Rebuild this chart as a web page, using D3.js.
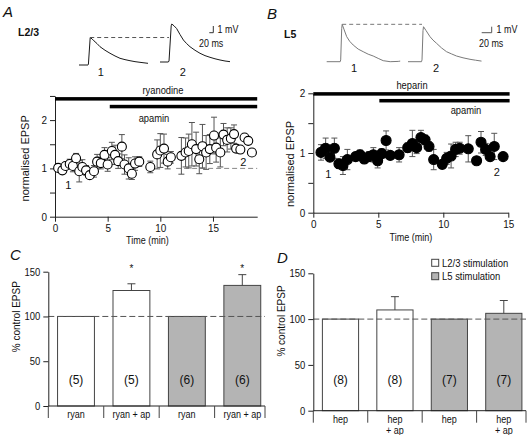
<!DOCTYPE html>
<html><head><meta charset="utf-8">
<script src="https://cdn.jsdelivr.net/npm/d3@7"></script>
<style>
body{margin:0;background:#fff}
svg{display:block;font-family:"Liberation Sans",Arial,Helvetica,sans-serif}
</style></head><body>
<svg id="c" width="531" height="435"></svg>
<script>
// ---------------- DATA ----------------
// Panel A (L2/3, ryanodine then apamin)
const timeA = [0.3,0.7,1.0,1.4,1.7,2.0,2.3,2.6,2.95,3.3,3.7,4.0,4.35,4.7,5.0,5.4,5.7,6.0,6.35,6.6,7.0,7.3,7.6,8.0,9.05,9.7,10.0,10.35,10.7,11.0,12.0,12.4,12.7,13.0,13.4,13.7,14.0,14.35,14.7,15.1,15.3,15.7,16.0,16.35,16.7,17.0,17.2,17.6,18.0,18.35,18.7];
const epspA = [1.01,0.96,1.05,1.09,1.05,1.21,0.94,1.03,0.96,0.86,0.94,1.14,1.11,1.28,1.08,1.36,1.28,1.15,1.45,1.08,1.0,0.89,1.10,1.14,1.03,1.29,1.37,1.41,1.14,1.23,1.26,1.33,1.36,1.50,1.40,1.19,1.46,1.33,1.40,1.68,1.43,1.33,1.70,1.59,1.62,1.71,1.41,1.39,1.64,1.57,1.33];
const semA  = [0.05,0.04,0.07,0.1,0.12,0.1,0.22,0.15,0.1,0.06,0.12,0.15,0.12,0.15,0.14,0.18,0.2,0.15,0.25,0.2,0.22,0.12,0.14,0.1,0.12,0.3,0.35,0.3,0.15,0.12,0.38,0.3,0.35,0.45,0.35,0.3,0.45,0.35,0.3,0.38,0.3,0.3,0.23,0.25,0.22,0.19,0,0,0,0,0];
// Panel B (L5, heparin then apamin)
const timeB = [0.59,0.95,1.28,1.62,1.97,2.28,2.62,3.26,3.59,3.92,4.28,4.62,4.95,5.26,5.6,5.92,6.6,7.26,7.62,7.95,8.28,8.6,8.9,9.26,9.92,10.26,10.6,10.95,11.26,11.92,12.56,12.9,13.26,13.6,13.92,14.6];
const epspB = [1.01,1.08,0.93,1.08,0.82,0.79,0.89,0.94,0.97,0.90,0.94,0.97,0.87,0.99,1.21,0.96,0.97,1.09,1.16,1.09,1.26,1.22,1.11,0.89,0.81,0.91,0.95,1.06,1.08,1.07,0.87,1.18,1.06,0.94,1.11,0.94];
const semB  = [0.13,0.17,0.05,0.17,0.08,0.15,0.17,0.07,0.08,0.07,0.08,0.12,0.12,0.08,0.16,0.06,0.12,0.08,0.22,0.1,0.12,0.08,0.08,0.17,0.07,0.1,0.2,0.12,0.1,0.22,0.06,0.18,0.1,0.07,0.22,0.05];
// drug application periods (min)
const drugsA = [{name:"ryanodine", start:0, end:19.2}, {name:"apamin", start:5.2, end:19.2}];
const drugsB = [{name:"heparin", start:0, end:15.1}, {name:"apamin", start:5.08, end:15.1}];
// Example EPSP traces [ms, mV]
const traceA1 = [[0,0],[45,0],[47,0.1],[56,4.1],[65,3.9],[75,3.6],[90,3.2],[105,2.73],[130,2.2],[155,1.75],[180,1.35],[205,1.0],[230,0.8],[255,0.64],[280,0.5],[305,0.4],[345,0.25]];
const traceA2 = [[0,0],[40,0],[45,0.1],[56,5.4],[59,5.67],[70,5.4],[83,5.0],[100,4.1],[117,3.28],[133,2.75],[150,2.28],[175,1.75],[200,1.3],[225,0.95],[250,0.7],[275,0.48],[300,0.3],[325,0.15],[350,0.05]];
const traceB1 = [[0,0],[27,0],[28,0.3],[30,5.5],[31,6.23],[35,5.3],[40,4.17],[46,3.4],[53,2.78],[63,2.1],[73,1.67],[83,1.25],[93,0.95],[103,0.55],[113,0.17],[127,0],[143,0.05],[147,0.1]];
const traceB2 = [[0,0],[27,0],[28,0.3],[30,5.2],[31,5.83],[36,5.2],[44,4.17],[50,3.6],[57,3.07],[67,2.3],[77,1.67],[87,1.3],[97,0.95],[110,0.65],[124,0.4],[135,0.25],[147,0.1]];
// Panel C
const catsC = ["ryan","ryan + ap","ryan","ryan + ap"];
const valsC = [100,129,100,134.7];
const errC  = [0,7.5,0,12];
const nC    = ["(5)","(5)","(6)","(6)"];
const sigC  = [false,true,false,true];
const stimC = ["L2/3","L2/3","L5","L5"];
// Panel D
const catsD = [["hep"],["hep","+ ap"],["hep"],["hep","+ ap"]];
const valsD = [100,110,100,106.3];
const errD  = [0,14.5,0,14];
const nD    = ["(8)","(8)","(7)","(7)"];
const stimD = ["L2/3","L2/3","L5","L5"];
const legendLabels = ["L2/3 stimulation","L5 stimulation"];

// ---------------- DRAW ----------------
const svg = d3.select("#c");
svg.append("rect").attr("width",531).attr("height",435).attr("fill","#fff");
const stimFill = {"L2/3":"#ffffff","L5":"#b4b4b4"};

function squeeze(sel, f){
  sel.each(function(){
    const L = this.getComputedTextLength();
    if (L>0) d3.select(this).attr("textLength", L*f).attr("lengthAdjust","spacingAndGlyphs");
  });
}
function txt(g, x, y, s, size, opts={}){
  const t = g.append("text").attr("x",x).attr("y",y).text(s)
    .attr("font-size",size).attr("fill","#111")
    .attr("text-anchor", opts.anchor||"middle");
  if (opts.weight) t.attr("font-weight",opts.weight);
  if (opts.italic) t.attr("font-style","italic");
  if (opts.sq) squeeze(t, opts.sq);
  return t;
}
function styleAxis(g, size, sq){
  g.select(".domain").attr("stroke","#222").attr("stroke-width",1);
  g.selectAll(".tick line").attr("stroke","#222");
  g.selectAll(".tick text").attr("font-size",size).attr("fill","#111").attr("font-family",null);
  g.attr("font-family",null);
  if (sq) squeeze(g.selectAll(".tick text"), sq);
}

// ----- traces -----
function drawTrace(data, x0, y0, pxMs, pxMV, color){
  const xs = d3.scaleLinear([0,1],[x0, x0+pxMs]);
  const ys = d3.scaleLinear([0,1],[y0, y0-pxMV]);
  svg.append("path").datum(data)
    .attr("d", d3.line().x(d=>xs(d[0])).y(d=>ys(d[1])))
    .attr("fill","none").attr("stroke",color).attr("stroke-width",1);
  return {xs, ys};
}
// A traces
const a1 = drawTrace(traceA1, 79, 65, 0.2, 6.7, "#1a1a1a");
const a2 = drawTrace(traceA2, 160, 62, 0.2, 6.7, "#1a1a1a");
const pkA1 = d3.maxIndex(traceA1, d=>d[1]);
const riseA2 = traceA2.findIndex(d=>d[1]>0.05);
svg.append("line").attr("x1",a1.xs(traceA1[pkA1][0])).attr("x2",a2.xs(traceA2[riseA2][0]))
  .attr("y1",a1.ys(traceA1[pkA1][1])).attr("y2",a1.ys(traceA1[pkA1][1]))
  .attr("stroke","#555").attr("stroke-dasharray","4,3");
// B traces
const b1 = drawTrace(traceB1, 326.7, 61.7, 0.5, 6.0, "#7a7a7a");
const b2 = drawTrace(traceB2, 408, 61.7, 0.5, 6.0, "#7a7a7a");
const pkB1 = d3.maxIndex(traceB1, d=>d[1]);
const riseB2 = traceB2.findIndex(d=>d[1]>0.05);
svg.append("line").attr("x1",b1.xs(traceB1[pkB1][0])).attr("x2",b2.xs(traceB2[riseB2][0]))
  .attr("y1",b1.ys(traceB1[pkB1][1])).attr("y2",b1.ys(traceB1[pkB1][1]))
  .attr("stroke","#777").attr("stroke-dasharray","4,3");
// scale bars (20 ms, 1 mV)
function scaleBar(ax, ay, tr, color){
  const w = tr.xs(20)-tr.xs(0), h = tr.ys(0)-tr.ys(1);
  svg.append("path").attr("d",`M${ax-w},${ay}H${ax}V${ay-h}`).attr("fill","none").attr("stroke",color);
}
scaleBar(213.3, 32.7, a1, "#333");
scaleBar(491.7, 32.7, b1, "#555");
txt(svg, 217.5, 33, "1 mV", 10.5, {anchor:"start", sq:0.85});
txt(svg, 199, 47, "20 ms", 10.5, {anchor:"start", sq:0.85});
txt(svg, 496.5, 33, "1 mV", 10.5, {anchor:"start", sq:0.85});
txt(svg, 479, 47, "20 ms", 10.5, {anchor:"start", sq:0.85});
txt(svg, 100.7, 75.5, "1", 11);
txt(svg, 182.7, 75.5, "2", 11);
txt(svg, 354, 72, "1", 11);
txt(svg, 436, 72, "2", 11);

// panel letters / labels
txt(svg, 3, 16.7, "A", 15, {anchor:"start", italic:true});
txt(svg, 267, 19.3, "B", 15, {anchor:"start", italic:true});
txt(svg, 10, 260, "C", 15, {anchor:"start", italic:true});
txt(svg, 277, 262.7, "D", 15, {anchor:"start", italic:true});
txt(svg, 18, 36, "L2/3", 10.5, {anchor:"start", weight:"bold"});
txt(svg, 284, 38, "L5", 10.5, {anchor:"start", weight:"bold"});

// ----- time-course panels -----
function timePanel(o){
  const x = d3.scaleLinear([0,o.xmax],[o.x0,o.x1]);
  const y = d3.scaleLinear([0,o.ymax],[o.y0,o.y1]);
  const g = svg.append("g");
  if (o.dashFrom!=null){
    g.append("line").attr("x1",x(o.dashFrom)).attr("x2",x(o.xmax)).attr("y1",y(1)).attr("y2",y(1))
      .attr("stroke","#888").attr("stroke-dasharray","5,3");
  }
  const ya = g.append("g").attr("transform",`translate(${o.x0},0)`)
    .call(d3.axisLeft(y).tickValues(o.yticks).tickSize(5).tickSizeOuter(0).tickPadding(3)
      .tickFormat(d=>Number.isInteger(d)?d:""));
  styleAxis(ya, 11, 0.9);
  const xa = g.append("g").attr("transform",`translate(0,${o.y0})`)
    .call(d3.axisBottom(x).tickValues([0,5,10,15]).tickSize(5).tickSizeOuter(0).tickPadding(3));
  styleAxis(xa, 11, 0.9);
  o.drugs.forEach((d,i)=>{
    g.append("rect").attr("x",x(d.start)).attr("width",x(d.end)-x(d.start))
      .attr("y",y(o.barLevels[i])-1.75).attr("height",3.5).attr("fill","#000");
    txt(g, o.labelPos[i][0], o.labelPos[i][1], d.name, 11, {sq:0.85});
  });
  const pts = o.t.map((t,i)=>({t, v:o.v[i], e:o.e[i]})).filter(d=>d.e>0);
  g.selectAll(".eb").data(pts).join("path")
    .attr("d", d=>`M${x(d.t)},${y(d.v-d.e)}V${y(d.v+d.e)}M${x(d.t)-3},${y(d.v-d.e)}h6M${x(d.t)-3},${y(d.v+d.e)}h6`)
    .attr("fill","none").attr("stroke","#555").attr("stroke-width",1);
  g.selectAll(".pt").data(o.t).join("circle")
    .attr("cx",(d)=>x(d)).attr("cy",(d,i)=>y(o.v[i])).attr("r",o.r)
    .attr("fill",o.fill).attr("stroke","#000").attr("stroke-width",1.1);
  txt(g, o.xTitle[0], o.xTitle[1], "Time (min)", 11, {sq:0.82});
  g.append("text").attr("transform",`translate(${o.yTitle[0]},${o.yTitle[1]}) rotate(-90)`)
    .attr("text-anchor","middle").attr("font-size",11).attr("fill","#111").text("normalised EPSP");
  txt(g, o.n1[0], o.n1[1], "1", 11);
  txt(g, o.n2[0], o.n2[1], "2", 11);
  return {x,y};
}
timePanel({xmax:19.2, x0:55, x1:257.2, ymax:2.5, y0:216.7, y1:95.95, yticks:[0,0.5,1,1.5,2,2.5],
  drugs:drugsA, barLevels:[2.44,2.28], labelPos:[[163,94],[154,122]],
  t:timeA, v:epspA, e:semA, r:4.5, fill:"#fff", dashFrom:11.5,
  xTitle:[147.5,243.5], yTitle:[29,158.3], n1:[68.3,189], n2:[243.3,165.5]});
timePanel({xmax:15, x0:313.3, x1:508.3, ymax:2, y0:212.7, y1:93.3, yticks:[0,0.5,1,1.5,2],
  drugs:drugsB, barLevels:[1.99,1.876], labelPos:[[412,89],[466,114]],
  t:timeB, v:epspB, e:semB, r:5, fill:"#000", dashFrom:null,
  xTitle:[411,241], yTitle:[294,164], n1:[328.3,178], n2:[496.7,176]});

// ----- bar panels -----
function barPanel(o){
  const x = d3.scaleBand().domain(d3.range(o.vals.length)).range([o.x0,o.x1]).paddingInner(0.335).paddingOuter(0.167);
  const y = d3.scaleLinear([0,150],[o.y0,o.y1]);
  const g = svg.append("g");
  const step = x.step();
  const axEnd = o.x1 - 5;
  g.selectAll(".bar").data(o.vals).join("rect")
    .attr("x",(d,i)=>x(i)).attr("width",x.bandwidth())
    .attr("y",d=>y(d)).attr("height",d=>y(0)-y(d))
    .attr("fill",(d,i)=>stimFill[o.stim[i]]).attr("stroke","#444").attr("stroke-width",1);
  o.vals.forEach((v,i)=>{
    const cx = x(i)+x.bandwidth()/2;
    if (o.err[i]>0){
      g.append("path").attr("d",`M${cx},${y(v)}V${y(v+o.err[i])}M${cx-4},${y(v+o.err[i])}h8`)
        .attr("fill","none").attr("stroke","#444");
    }
    txt(g, cx, y(o.nLevel)+4, o.n[i], 12);
    if (o.sig && o.sig[i]) txt(g, cx, y(150)+0.5, "*", 10);
  });
  g.append("line").attr("x1",o.x0).attr("x2",axEnd).attr("y1",y(100)).attr("y2",y(100))
    .attr("stroke","#555").attr("stroke-dasharray","6,3");
  const ya = g.append("g").attr("transform",`translate(${o.x0},0)`)
    .call(d3.axisLeft(y).tickValues([0,50,100,150]).tickSize(5).tickSizeOuter(0).tickPadding(3));
  styleAxis(ya, 10.5, 0.9);
  g.append("line").attr("x1",o.x0).attr("x2",axEnd).attr("y1",y(0)).attr("y2",y(0)).attr("stroke","#222");
  const seps = d3.range(o.vals.length).map(i=>x(i)-step*0.167).concat([axEnd]);
  seps[0] = o.x0;
  g.selectAll(".sep").data(seps).join("line")
    .attr("x1",d=>d).attr("x2",d=>d).attr("y1",y(0)).attr("y2",y(0)+12).attr("stroke","#444");
  o.cats.forEach((c,i)=>{
    const lines = Array.isArray(c)?c:[c];
    lines.forEach((s,j)=>txt(g, x(i)+x.bandwidth()/2, y(0)+12+j*11, s, 10, {sq:0.9}));
  });
  g.append("text").attr("transform",`translate(${o.yTitle[0]},${o.yTitle[1]}) rotate(-90)`)
    .attr("text-anchor","middle").attr("font-size",10).attr("fill","#111").text("% control EPSP");
  return {x,y};
}
barPanel({vals:valsC, err:errC, n:nC, sig:sigC, stim:stimC, cats:catsC, x0:48.3, x1:270, y0:406, y1:271.7, nLevel:29, yTitle:[20,316.7]});
barPanel({vals:valsD, err:errD, n:nD, sig:null, stim:stimD, cats:catsD, x0:313.3, x1:531, y0:410.7, y1:273.3, nLevel:33, yTitle:[285,321]});

// legend
const lg = svg.append("g");
legendLabels.forEach((s,i)=>{
  lg.append("rect").attr("x",431.7).attr("y",259.3+i*13.4).attr("width",7).attr("height",7)
    .attr("fill",stimFill[["L2/3","L5"][i]]).attr("stroke","#444");
  txt(lg, 442, 266.6+i*13.4, s, 10.5, {anchor:"start", sq:0.9});
});
</script>
</body></html>
